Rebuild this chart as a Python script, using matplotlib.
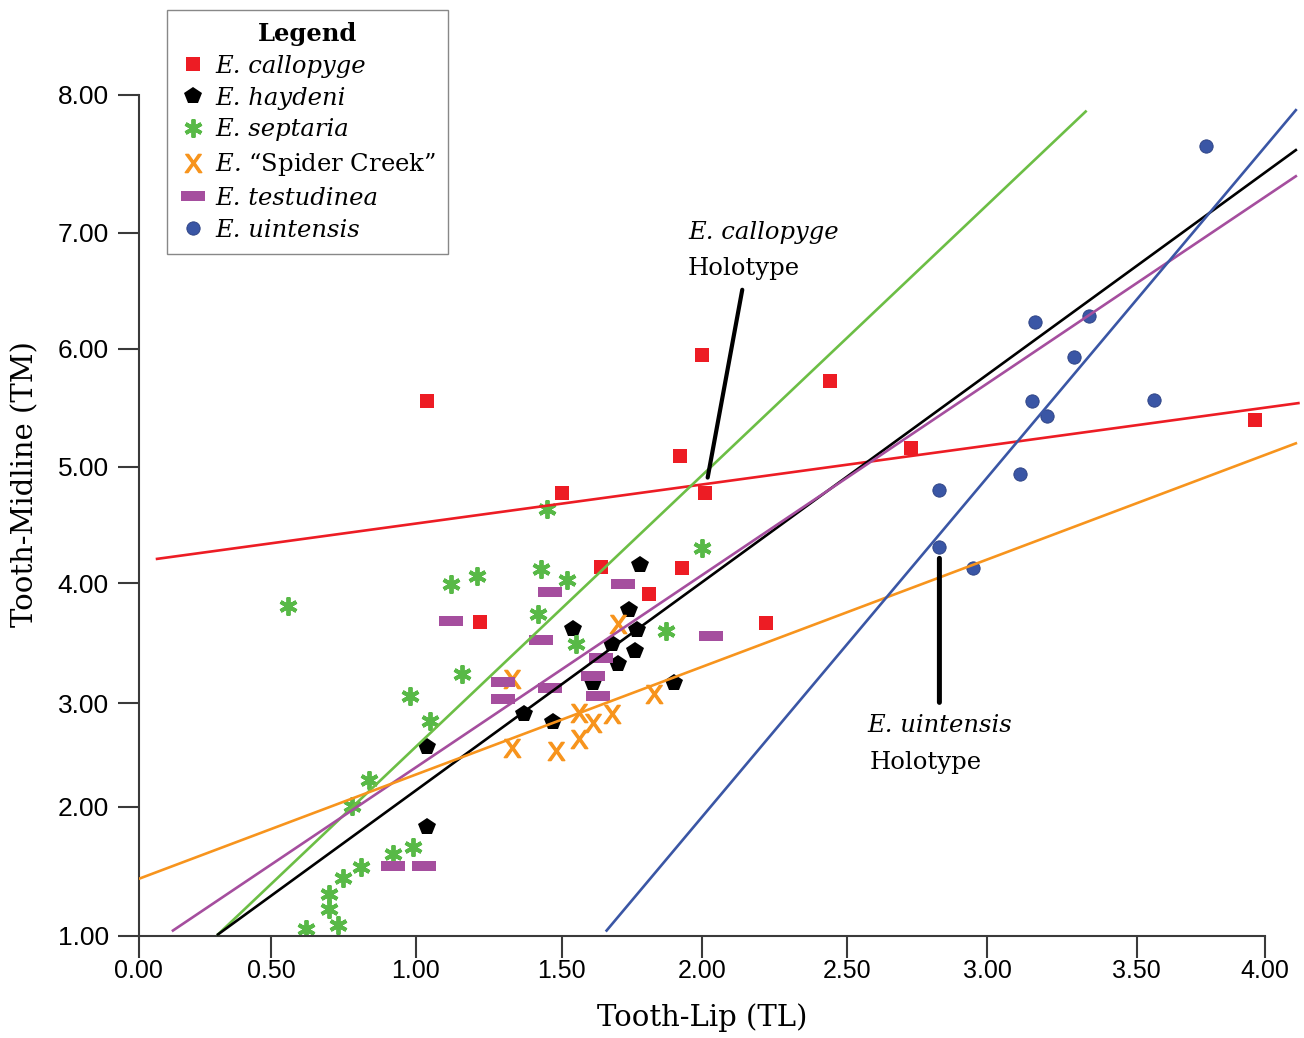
import numpy as np
import matplotlib
matplotlib.use("Agg")
import matplotlib.pyplot as plt

# E. callopyge
callopyge_tl = [1.04, 1.22, 1.50, 1.64, 1.81, 1.92, 1.93, 2.00, 2.01, 2.22, 2.44, 2.73, 3.96]
callopyge_tm = [5.56, 3.68, 4.78, 4.14, 3.91, 5.09, 4.13, 5.95, 4.78, 3.67, 5.73, 5.16, 5.40]

# E. haydeni
haydeni_tl = [1.04, 1.04, 1.37, 1.47, 1.54, 1.61, 1.68, 1.70, 1.74, 1.76, 1.77, 1.78, 1.90]
haydeni_tm = [2.58, 1.84, 2.90, 2.82, 3.62, 3.17, 3.49, 3.33, 3.78, 3.44, 3.61, 4.16, 3.17]

# E. septaria
septaria_tl = [0.56, 0.62, 0.70, 0.70, 0.73, 0.75, 0.78, 0.81, 0.84, 0.92, 0.99, 0.98,
               1.05, 1.12, 1.16, 1.21, 1.42, 1.43, 1.45, 1.52, 1.55, 1.87, 2.00]
septaria_tm = [3.81, 1.05, 1.21, 1.32, 1.08, 1.45, 2.01, 1.53, 2.26, 1.63, 1.69, 3.06,
               2.83, 3.99, 3.24, 4.06, 3.74, 4.12, 4.64, 4.03, 3.49, 3.60, 4.30]

# E. "Spider Creek"
spider_tl = [1.33, 1.33, 1.48, 1.56, 1.56, 1.61, 1.68, 1.70, 1.83]
spider_tm = [3.20, 2.57, 2.54, 2.91, 2.65, 2.81, 2.90, 3.66, 3.08]

# E. testudinea
testudinea_tl = [0.92, 1.03, 1.12, 1.30, 1.30, 1.43, 1.46, 1.46, 1.61, 1.63, 1.64, 1.72, 2.03]
testudinea_tm = [1.54, 1.54, 3.69, 3.18, 3.04, 3.53, 3.93, 3.13, 3.23, 3.06, 3.38, 3.99, 3.56]

# E. uintensis
uintensis_tl = [2.83, 2.83, 2.95, 3.11, 3.15, 3.16, 3.20, 3.29, 3.34, 3.57, 3.77]
uintensis_tm = [4.80, 4.31, 4.13, 4.94, 5.56, 6.23, 5.43, 5.93, 6.28, 5.57, 7.63]

# regression lines: (TL start, TL end), (TM start, TM end)
fit_callopyge = ([0.07, 4.13], [4.21, 5.54])
fit_haydeni = ([0.30, 4.12], [1.01, 7.60])
fit_septaria = ([0.30, 3.33], [1.01, 7.88])
fit_spider = ([0.00, 4.12], [1.44, 5.20])
fit_testudinea = ([0.13, 4.12], [1.04, 7.41])
fit_uintensis = ([1.66, 4.12], [1.04, 7.89])

# holotypes
callopyge_holotype = (2.01, 4.78)
uintensis_holotype = (2.83, 4.31)

x_ticks = [0.0, 0.5, 1.0, 1.5, 2.0, 2.5, 3.0, 3.5, 4.0]
y_ticks = [1.0, 2.0, 3.0, 4.0, 5.0, 6.0, 7.0, 8.0]

# the published axes are not evenly spaced; tick positions in pixels
x_tick_px = np.array([138.5, 271, 415.7, 561.7, 702, 847, 987, 1136.5, 1265])
y_tick_px = -np.array([935.7, 806.7, 703.3, 583.3, 467, 348.7, 232.7, 95])


def interp_ext(v, xp, fp):
    v = np.asarray(v, dtype=float)
    xp = np.asarray(xp, dtype=float)
    fp = np.asarray(fp, dtype=float)
    out = np.interp(v, xp, fp)
    lo = v < xp[0]
    hi = v > xp[-1]
    out = np.where(lo, fp[0] + (v - xp[0]) * (fp[1] - fp[0]) / (xp[1] - xp[0]), out)
    out = np.where(hi, fp[-1] + (v - xp[-1]) * (fp[-1] - fp[-2]) / (xp[-1] - xp[-2]), out)
    return out


fx = (lambda v: interp_ext(v, x_ticks, x_tick_px), lambda p: interp_ext(p, x_tick_px, x_ticks))
fy = (lambda v: interp_ext(v, y_ticks, y_tick_px), lambda p: interp_ext(p, y_tick_px, y_ticks))

plt.rcParams['mathtext.fontset'] = 'custom'
plt.rcParams['mathtext.rm'] = 'DejaVu Serif'
plt.rcParams['mathtext.it'] = 'DejaVu Serif:italic'
plt.rcParams['mathtext.sf'] = 'Liberation Sans'

W, H = 1304, 1038
fig = plt.figure(figsize=(W / 100, H / 100), dpi=100)
ax = fig.add_axes([138.5 / W, (H - 935.7) / H, (1300 - 138.5) / W, (935.7 - 90) / H])
ax.set_xscale('function', functions=fx)
ax.set_yscale('function', functions=fy)
ax.set_xlim(0, float(fx[1](1300)))
ax.set_ylim(1, float(fy[1](-90)))

bar = [(-1, -0.42), (1, -0.42), (1, 0.42), (-1, 0.42), (-1, -0.42)]
red = '#ED1C24'
green = '#58B947'
orange = '#F7941D'
purple = '#A54E9E'
blue = '#3A56A5'
fs = 17.5

ax.plot(callopyge_tl, callopyge_tm, 's', color=red, ms=9.6, mew=0, label='E. callopyge', zorder=2)
ax.plot(haydeni_tl, haydeni_tm, 'p', color='black', ms=13, mew=0, label='E. haydeni', zorder=2)
ax.plot(septaria_tl, septaria_tm, marker=(6, 2, 0), ls='none', color=green, mec=green, ms=13, mew=2.8,
        label='E. septaria', zorder=2)
ax.plot(spider_tl, spider_tm, marker=r'$\mathsf{X}$', ls='none', color=orange, mec=orange, ms=13,
        mew=1.1, label='E. $\\mathrm{\u201cSpider\\ Creek\u201d}$', zorder=2)
ax.plot(testudinea_tl, testudinea_tm, marker=bar, ls='none', color=purple, ms=17, mew=0,
        label='E. testudinea', zorder=2)
ax.plot(uintensis_tl, uintensis_tm, 'o', color=blue, mec='#2A3F80', ms=9.6, mew=0.6,
        label='E. uintensis', zorder=2)

for fit, c in [(fit_callopyge, red), (fit_septaria, '#6CBE45'), (fit_haydeni, 'black'),
               (fit_testudinea, purple), (fit_spider, orange), (fit_uintensis, blue)]:
    ax.plot(fit[0], fit[1], color=c, lw=1.9, zorder=3)

# holotype call-outs
ax.text(1.95, 7.0, 'E. callopyge', fontsize=fs, family='DejaVu Serif', style='italic', va='center')
ax.annotate('Holotype', xy=callopyge_holotype, xytext=(1.95, 6.69), fontsize=fs,
            family='DejaVu Serif', va='center',
            arrowprops=dict(arrowstyle='-', lw=3, color='black', relpos=(0.5, 0),
                            shrinkA=5, shrinkB=11))
ax.annotate('E. uintensis', xy=uintensis_holotype, xytext=(uintensis_holotype[0], 2.79), fontsize=fs,
            family='DejaVu Serif', style='italic', ha='center', va='center',
            arrowprops=dict(arrowstyle='-', lw=3.6, color='black', relpos=(0.5, 1),
                            shrinkA=6, shrinkB=8))
ax.text(2.58, 2.43, 'Holotype', fontsize=fs, family='DejaVu Serif', va='center')

for s in ['top', 'right']:
    ax.spines[s].set_visible(False)
for s in ['left', 'bottom']:
    ax.spines[s].set_color('#3a3a3a')
    ax.spines[s].set_linewidth(1.5)
ax.spines['left'].set_bounds(1, 8)
ax.spines['bottom'].set_bounds(0, 4)

ax.set_xticks(x_ticks)
ax.set_yticks(y_ticks)
ax.minorticks_off()
ax.set_xticklabels(['%.2f' % v for v in x_ticks], fontsize=18, family='Liberation Sans')
ax.set_yticklabels(['%.2f' % v for v in y_ticks], fontsize=19, family='Liberation Sans')
ax.tick_params(axis='x', length=16, width=1.5, color='#3a3a3a', pad=1)
ax.tick_params(axis='y', length=15, width=1.5, color='#3a3a3a', pad=6.5)

ax.set_xlabel('Tooth-Lip (TL)', fontsize=21, family='DejaVu Serif')
ax.set_ylabel('Tooth-Midline (TM)', fontsize=21, family='DejaVu Serif')
ax.xaxis.label.set_va('center')
ax.yaxis.label.set_va('center')
ax.xaxis.set_label_coords((702 - 138.5) / 1161.5, (935.7 - 1018) / 845.7)
ax.yaxis.set_label_coords((25 - 138.5) / 1161.5, (935.7 - 484) / 845.7)

leg = ax.legend(loc='upper left', bbox_to_anchor=(167 / W, 1 - 10 / H), bbox_transform=fig.transFigure,
                borderaxespad=0, numpoints=1, title='Legend', fancybox=False, framealpha=1,
                edgecolor='#888888', handlelength=1.15, handletextpad=0.33, labelspacing=0.36,
                borderpad=0.5, prop={'family': 'DejaVu Serif', 'style': 'italic', 'size': fs},
                title_fontproperties={'family': 'DejaVu Serif', 'weight': 'bold', 'size': fs})
leg.get_frame().set_linewidth(1.0)

fig.savefig('out.png', dpi=100)
